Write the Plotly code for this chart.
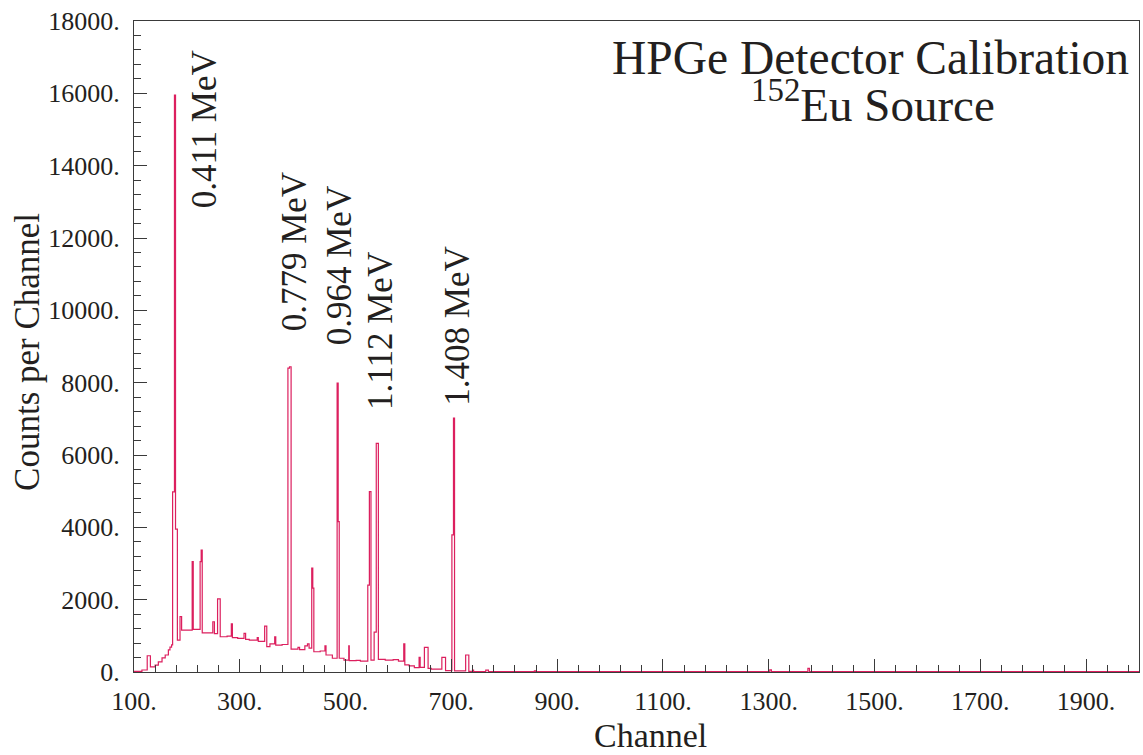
import plotly.graph_objects as go

# Histogram bins (left edges, channel) and counts per channel
bin_edges = [100, 115, 125, 131, 140, 146, 153, 159, 165, 168, 171, 173, 176.5, 178.5,
             182, 187, 190, 210, 212, 225, 227, 229, 249, 252, 258, 263, 276, 284, 286,
             296, 308, 311, 318, 333, 335, 347, 351, 357, 366, 368, 380, 391, 394, 397,
             410, 413, 423, 428, 431, 436, 438, 440, 452, 461, 463, 475, 484, 486, 488,
             497, 506, 507, 520, 528, 542, 545, 548, 554, 558, 562, 575, 590, 600, 610,
             612, 620, 630, 639, 641, 649, 656, 662, 682, 689, 701, 704, 706, 727, 733,
             740, 742, 765, 770, 857, 859, 1302, 1305, 1374, 1377]
bin_counts = [20, 55, 450, 140, 190, 280, 390, 470, 610, 690, 750, 4980, 15950, 3950,
              880, 1530, 1160, 3050, 1180, 3050, 3370, 1080, 1390, 1060, 2020, 975, 990,
              1330, 950, 930, 1070, 900, 880, 950, 845, 1270, 700, 780, 975, 745, 760,
              8400, 8440, 635, 680, 620, 720, 780, 660, 2875, 2320, 560, 580, 720, 470,
              380, 7990, 4160, 380, 330, 720, 313, 320, 300, 2400, 4985, 330, 1100, 6320,
              350, 330, 340, 300, 780, 195, 170, 120, 405, 130, 680, 100, 80, 405, 40,
              3790, 7020, 30, 470, 15, 50, 12, 50, 10, 30, 8, 60, 8, 100, 8]
last_edge = 2000

# Peak labels
peak_labels = ["0.411 MeV", "0.779 MeV", "0.964 MeV", "1.112 MeV", "1.408 MeV"]
label_channel = [233, 404, 489, 565, 711]
label_count = [12774, 9373, 8986, 7189, 7300]

# Axis ranges
x_range = [100, 2000]
y_range = [0, 18000]

xs = bin_edges + [last_edge]
ys = bin_counts + [bin_counts[-1]]

line_color = "#dc1f5e"
font_family = "Liberation Serif"
text_color = "#231f20"
axis_color = "#3a3a3a"

fig = go.Figure()
fig.add_trace(go.Scatter(x=xs, y=ys, mode="lines", line_shape="hv",
                         line=dict(color=line_color, width=1.2),
                         showlegend=False, hoverinfo="skip"))

for t, cx, cy in zip(peak_labels, label_channel, label_count):
    fig.add_annotation(x=cx, y=cy, xref="x", yref="y", text=t, textangle=-90,
                       showarrow=False, xanchor="center", yanchor="bottom",
                       font=dict(family=font_family, size=35, color=text_color))

fig.add_annotation(x=0.733, y=0.943, xref="paper", yref="paper",
                   text="HPGe Detector Calibration", showarrow=False,
                   xanchor="center", yanchor="middle",
                   font=dict(family=font_family, size=47.5, color=text_color))
fig.add_annotation(x=0.735, y=0.877, xref="paper", yref="paper",
                   text="<sup>152</sup>Eu Source", showarrow=False,
                   xanchor="center", yanchor="middle",
                   font=dict(family=font_family, size=47, color=text_color))

fig.add_annotation(x=0.5144, y=-0.0968, xref="paper", yref="paper",
                   text="Channel", showarrow=False, xanchor="center", yanchor="middle",
                   font=dict(family=font_family, size=34, color=text_color))
fig.add_annotation(x=-0.1055, y=0.4916, xref="paper", yref="paper",
                   text="Counts per Channel", showarrow=False, textangle=-90,
                   xanchor="center", yanchor="middle",
                   font=dict(family=font_family, size=35, color=text_color))

fig.update_xaxes(range=x_range, tick0=100, dtick=200, ticksuffix=".",
                 exponentformat="none", separatethousands=False,
                 ticks="inside", ticklen=13, tickwidth=1.2, tickcolor=axis_color,
                 minor=dict(ticks="inside", ticklen=7, tickwidth=1, tickcolor=axis_color,
                            tick0=100, dtick=40),
                 showline=True, linecolor=axis_color, linewidth=1, mirror=True,
                 showgrid=False, zeroline=False, ticklabelstandoff=6,
                 tickfont=dict(family=font_family, size=26, color=text_color))
fig.update_yaxes(range=y_range, tick0=0, dtick=2000, ticksuffix=".",
                 exponentformat="none", separatethousands=False, tickformat="d",
                 ticks="inside", ticklen=13, tickwidth=1.2, tickcolor=axis_color,
                 minor=dict(ticks="inside", ticklen=7, tickwidth=1, tickcolor=axis_color,
                            tick0=0, dtick=400),
                 showline=True, linecolor=axis_color, linewidth=1, mirror=True,
                 showgrid=False, zeroline=False, ticklabelstandoff=8,
                 tickfont=dict(family=font_family, size=26, color=text_color))

fig.update_layout(width=1143, height=755, margin=dict(l=134, r=4, t=21, b=83),
                  paper_bgcolor="white", plot_bgcolor="white")

fig.write_html("out.html")
